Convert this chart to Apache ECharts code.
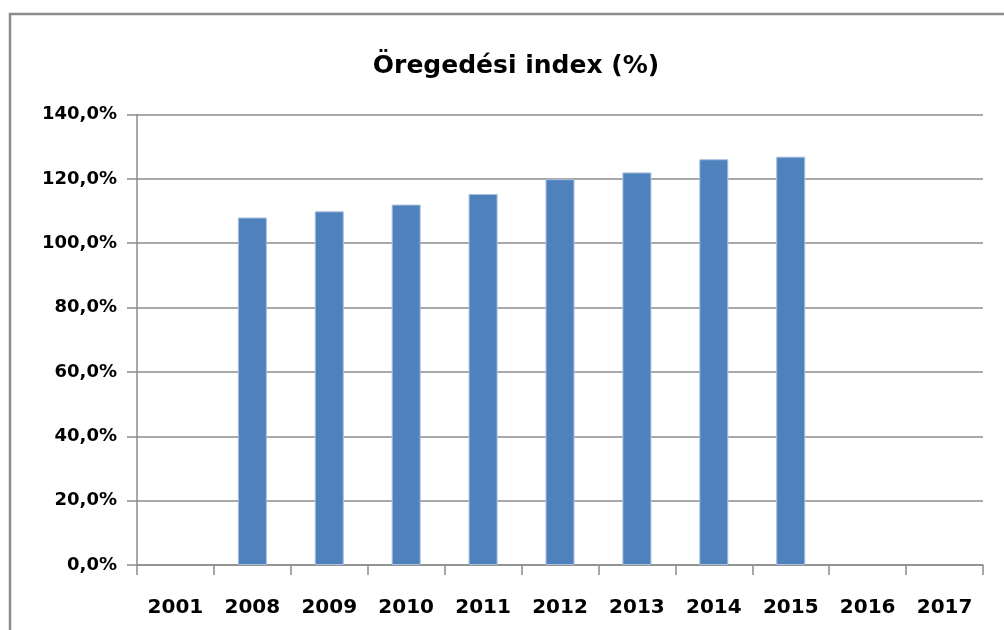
<!DOCTYPE html>
<html>
<head>
<meta charset="utf-8">
<script src="https://cdn.jsdelivr.net/npm/echarts@6/dist/echarts.min.js"></script>
<style>
  html, body { margin: 0; padding: 0; background: #fff; }
  #chart { width: 1004px; height: 630px; }
</style>
</head>
<body>
<div id="chart"></div>
<script>
// évek (kategóriák)
const years = ['2001', '2008', '2009', '2010', '2011', '2012', '2013', '2014', '2015', '2016', '2017'];
// öregedési index, %
const agingIndex = [null, 108.0, 109.9, 112.0, 115.3, 119.9, 122.0, 126.1, 126.9, null, null];
// y tengely
const yMin = 0;
const yMax = 140;
const yStep = 20;

const chart = echarts.init(document.getElementById('chart'));

const labelFont = {
  fontFamily: 'DejaVu Sans',
  fontWeight: 'bold',
  color: '#000'
};

const option = {
  animation: false,
  backgroundColor: '#fff',
  title: {
    text: 'Öregedési index (%)',
    left: 511,
    top: 49,
    textAlign: 'center',
    textStyle: {
      fontFamily: 'DejaVu Sans',
      fontWeight: 'bold',
      fontSize: 25,
      color: '#000'
    }
  },
  // keret
  graphic: [{
    type: 'rect',
    shape: { x: 10, y: 14, width: 1100, height: 700 },
    style: { fill: 'none', stroke: '#8c8c8c', lineWidth: 2.5 },
    silent: true
  }],
  grid: {
    left: 137,
    right: 21,
    top: 114.5,
    bottom: 65
  },
  xAxis: {
    type: 'category',
    data: years,
    axisLine: { lineStyle: { color: '#8c8c8c', width: 1.5 } },
    axisTick: { show: true, length: 10, lineStyle: { color: '#8c8c8c', width: 1.5 } },
    axisLabel: Object.assign({ margin: 33, fontSize: 20 }, labelFont)
  },
  yAxis: {
    type: 'value',
    min: yMin,
    max: yMax,
    interval: yStep,
    axisLine: { show: true, lineStyle: { color: '#8c8c8c', width: 1.5 } },
    axisTick: { show: true, length: 10, lineStyle: { color: '#8c8c8c', width: 1.5 } },
    splitLine: { lineStyle: { color: '#8c8c8c', width: 1.5 } },
    axisLabel: Object.assign({
      margin: 20,
      fontSize: 18,
      formatter: v => v.toFixed(1).replace('.', ',') + '%'
    }, labelFont)
  },
  series: [{
    type: 'bar',
    data: agingIndex,
    barWidth: 29,
    itemStyle: {
      color: '#4f81bd',
      borderColor: '#a7c0de',
      borderWidth: 1
    }
  }]
};

chart.setOption(option);
</script>
</body>
</html>
